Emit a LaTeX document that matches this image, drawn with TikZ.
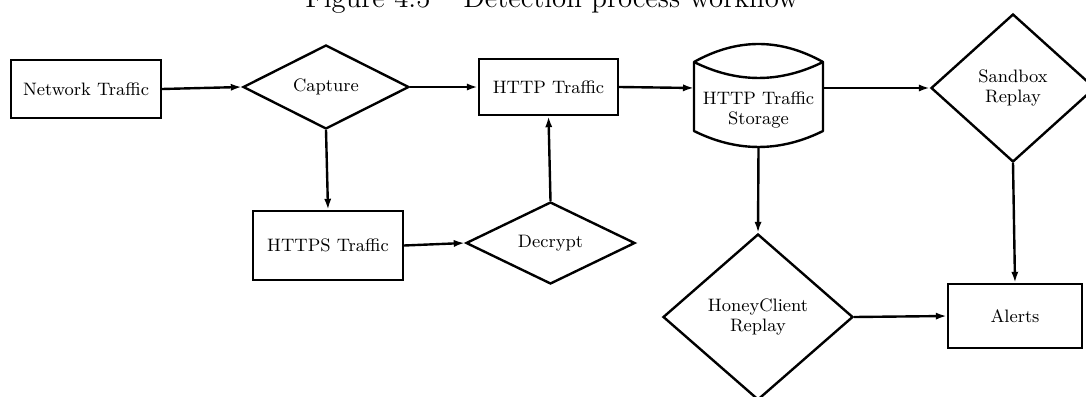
\documentclass[tikz,border=0pt]{standalone}
\usetikzlibrary{shapes.geometric,arrows.meta}
\begin{document}
\begin{tikzpicture}[x=0.5pt,y=-0.5pt, line width=1.2pt,
  txt/.style={font=\fontsize{9}{10}\selectfont, align=center},
  box/.style={draw, rectangle, inner sep=0pt, txt},
  dia/.style={draw, diamond, inner sep=0pt, txt},
  arr/.style={-{Latex[length=5.5pt,width=3.6pt]}},
  lbl/.style={inner sep=0pt, txt}]
\useasboundingbox (0,0) rectangle (1086,396);
\node[anchor=base, font=\fontsize{14.4}{17}\selectfont] (title) at (552,8) {Figure 4.5 -- Detection process workflow};

\node[box, minimum width=75pt, minimum height=29pt] (nt) at (86,89) {Network Traffic};
\node[dia, minimum width=83pt, minimum height=42pt] (cap) at (326,87) {Capture};
\node[box, minimum width=69.5pt, minimum height=28pt] (http) at (548.5,87) {HTTP Traffic};
\node[box, minimum width=75pt, minimum height=34.5pt] (https) at (328,245.5) {HTTPS Traffic};
\node[dia, minimum width=84.5pt, minimum height=41pt] (dec) at (550.5,243) {Decrypt};
\node[dia, minimum width=82pt, minimum height=74pt] (sand) at (1013,88) {Sandbox\\Replay};
\node[dia, minimum width=95pt, minimum height=83pt] (honey) at (758,317) {HoneyClient\\Replay};
\node[box, minimum width=67pt, minimum height=32pt] (alerts) at (1015,316) {Alerts};

% storage cylinder
\draw[line join=round] (694,62) .. controls (737,38) and (780,38) .. (823,62) -- (823,131)
   .. controls (780,152.3) and (737,152.3) .. (694,131) -- cycle;
\draw (694,62) .. controls (737,83.3) and (780,83.3) .. (823,62);
\node[lbl] (store) at (758.5,110) {HTTP Traffic\\Storage};
\coordinate (storeW) at (694,88);
\coordinate (storeE) at (823,88);
\coordinate (storeS) at (758.5,148);

\draw[arr] (nt.east) -- (cap.west);
\draw[arr] (cap.east) -- (http.west);
\draw[arr] (cap.south) -- (https.north);
\draw[arr] (https.east) -- (dec.west);
\draw[arr] (dec.north) -- (http.south);
\draw[arr] (http.east) -- (storeW);
\draw[arr] (storeE) -- (sand.west);
\draw[arr] (storeS) -- (honey.north);
\draw[arr] (sand.south) -- (alerts.north);
\draw[arr] (honey.east) -- (alerts.west);
\end{tikzpicture}
\end{document}
